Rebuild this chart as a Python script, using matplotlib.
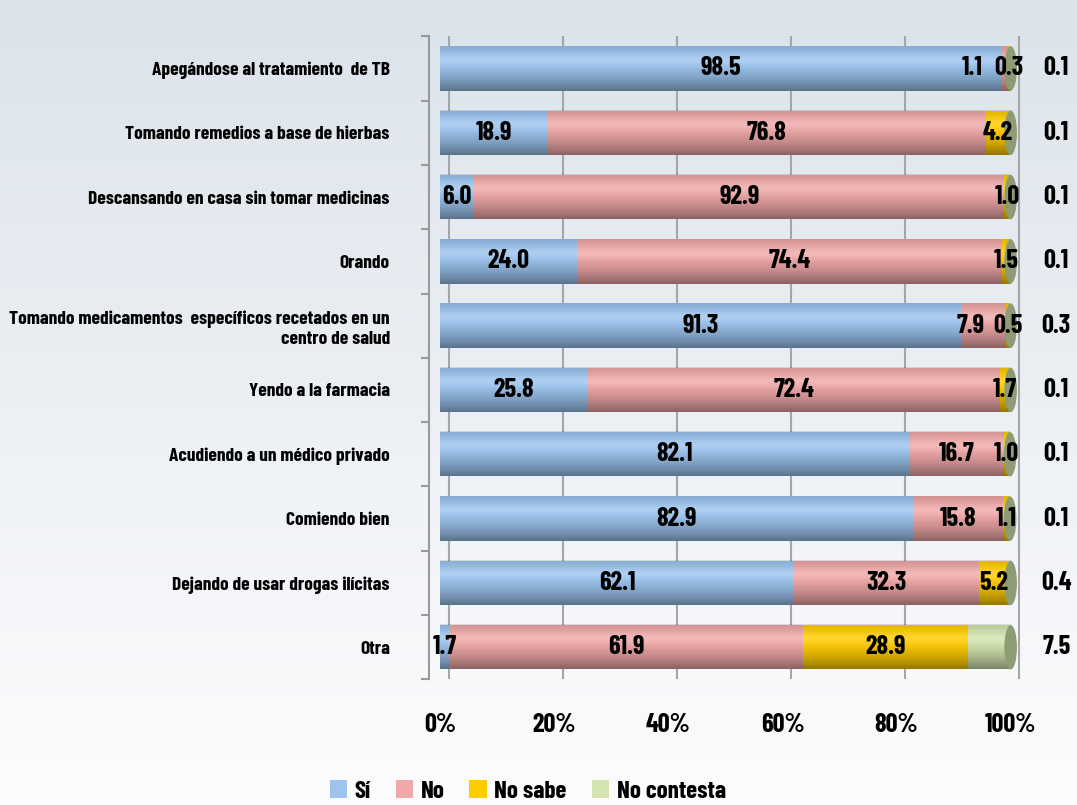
import matplotlib
matplotlib.use("Agg")
import matplotlib.pyplot as plt
import matplotlib.transforms as mtransforms
import numpy as np
from matplotlib.patches import Ellipse, Patch

categories = [
    "Apegándose al tratamiento  de TB",
    "Tomando remedios a base de hierbas",
    "Descansando en casa sin tomar medicinas",
    "Orando",
    "Tomando medicamentos  específicos recetados en un\ncentro de salud",
    "Yendo a la farmacia",
    "Acudiendo a un médico privado",
    "Comiendo bien",
    "Dejando de usar drogas ilícitas",
    "Otra",
]
si = [98.5, 18.9, 6.0, 24.0, 91.3, 25.8, 82.1, 82.9, 62.1, 1.7]
no = [1.1, 76.8, 92.9, 74.4, 7.9, 72.4, 16.7, 15.8, 32.3, 61.9]
no_sabe = [0.3, 4.2, 1.0, 1.5, 0.5, 1.7, 1.0, 1.1, 5.2, 28.9]
no_contesta = [0.1, 0.1, 0.1, 0.1, 0.3, 0.1, 0.1, 0.1, 0.4, 7.5]

series = ["Sí", "No", "No sabe", "No contesta"]
colors = ["#9cc4ee", "#f0a8a8", "#ffcc00", "#d3e4ae"]
cap_color = "#8d9c74"

FONT = ["Barlow Condensed", "DejaVu Sans"]
plt.rcParams["font.family"] = FONT
plt.rcParams["font.weight"] = "bold"
plt.rcParams["font.stretch"] = "condensed"

fig = plt.figure(figsize=(10.77, 8.05), dpi=100)

# background gradient
bg = fig.add_axes([0, 0, 1, 1], zorder=-10)
grad = np.linspace(0, 1, 256).reshape(-1, 1)
top = np.array([0.86, 0.89, 0.92])
bot = np.array([0.99, 0.99, 0.995])
img = top + (bot - top) * grad[..., None]
bg.imshow(img, aspect="auto", extent=[0, 1, 0, 1])
bg.axis("off")

ax = fig.add_axes([0.406, 0.156, 0.543, 0.799])
ax.patch.set_alpha(0)

y = np.arange(len(categories))
data = [si, no, no_sabe, no_contesta]
bar_h = 0.69
left = np.zeros(len(categories))
bars = []
for vals, col, name in zip(data, colors, series):
    b = ax.barh(y, vals, left=left, height=bar_h, color=col, label=name,
                zorder=3, edgecolor="none")
    bars.append(b)
    left = left + np.array(vals)

# cylinder shading: t=0 is the top edge on screen
t = np.linspace(0, 1, 64)
shade = np.zeros((64, 1, 4))
shade[:, 0, 3] = np.where(t < 0.3, 0.12 * (0.3 - t) / 0.3,
                          0.42 * ((t - 0.3) / 0.7) ** 1.6)
hl = np.zeros((64, 1, 4))
hl[:, 0, :3] = 1
hl[:, 0, 3] = 0.18 * np.exp(-((t - 0.3) / 0.15) ** 2)
for i, p in enumerate(bars[0]):
    y0, h = p.get_y(), p.get_height()
    total = left[i]
    for arr in (shade, hl):
        ax.imshow(arr, aspect="auto", extent=[0, total, y0, y0 + h],
                  origin="lower", zorder=4, interpolation="bilinear")
    ax.add_patch(Ellipse((total, y0 + h / 2), 2.2, h, facecolor=cap_color,
                         edgecolor="none", zorder=5))

# value labels
for i in range(len(categories)):
    vals = [d[i] for d in data[:3]]
    starts = [0, si[i], si[i] + no[i]]
    centers = [s + v / 2 for s, v in zip(starts, vals)]
    centers[2] = min(centers[2], 99.8)
    for k in (1, 0):
        if centers[k] > centers[k + 1] - 6.5 and vals[k] < 20:
            centers[k] = centers[k + 1] - 6.5
    for c, v in zip(centers, vals):
        ax.text(c, y[i], f"{v:.1f}", ha="center", va="center", fontsize=19,
                zorder=6)
    ax.text(108, y[i], f"{no_contesta[i]:.1f}", ha="center", va="center",
            fontsize=19, clip_on=False)

ax.set_xlim(-0.5, 102)
ax.set_ylim(len(categories) - 0.5, -0.5)
ax.set_yticks(y)
ax.set_yticklabels(categories)
ax.tick_params(axis="y", length=0, pad=28, labelsize=14)
shift = mtransforms.ScaledTranslation(0, -6 / 72, fig.dpi_scale_trans)
for lab in ax.get_yticklabels():
    lab.set_transform(lab.get_transform() + shift)
ax.set_yticks(np.arange(-0.5, len(categories)), minor=True)
ax.tick_params(axis="y", which="minor", length=6, color="#9a9a9a", width=1.5)

ax.set_xticks(np.arange(0, 101, 20))
ax.set_xticklabels([f"{v}%" for v in range(0, 101, 20)])
ax.tick_params(axis="x", length=0, pad=24, labelsize=19)
for v in range(0, 101, 20):
    ax.axvline(v + 1.5, color="#a6a6a6", lw=1.5, zorder=1)

for s in ["top", "right", "bottom"]:
    ax.spines[s].set_visible(False)
ax.spines["left"].set_color("#9a9a9a")
ax.spines["left"].set_linewidth(1.5)
ax.spines["left"].set_position(("data", -2))

handles = [Patch(facecolor=c, edgecolor="none") for c in colors]
fig.legend(handles, series, loc="lower center", bbox_to_anchor=(0.49, -0.025),
           ncol=4, frameon=False, handlelength=0.7,
           handleheight=0.7, handletextpad=0.3, columnspacing=1.0,
           prop={"family": FONT, "weight": "bold", "size": 18,
                 "stretch": "condensed"})

fig.savefig("out.png", dpi=100)
